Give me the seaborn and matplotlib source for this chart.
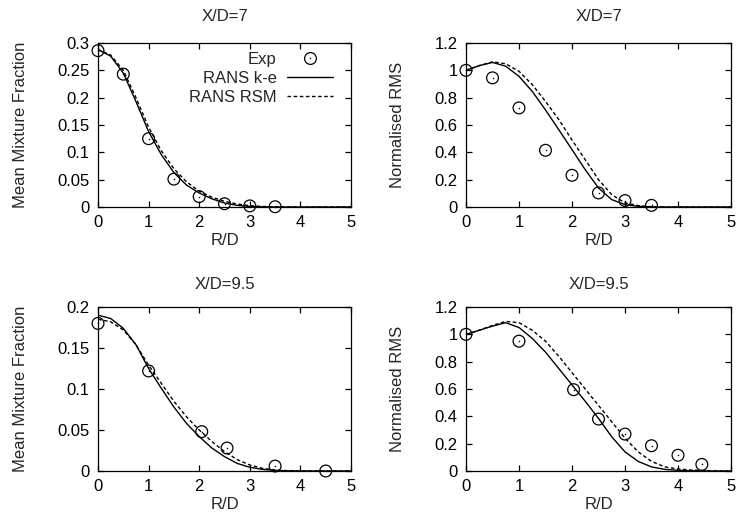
import numpy as np
import matplotlib
matplotlib.use("Agg")
import matplotlib.pyplot as plt
import seaborn as sns
from matplotlib.ticker import FuncFormatter, MultipleLocator
from matplotlib.lines import Line2D
from matplotlib.legend_handler import HandlerTuple

# ---------------- data ----------------
r_line = [0, 0.25, 0.5, 0.75, 1, 1.25, 1.5, 1.75, 2, 2.25, 2.5, 2.75, 3,
          3.25, 3.5, 3.75, 4, 4.25, 4.5, 4.75, 5]

# X/D = 7, mean mixture fraction
exp7_mean_r = [0, 0.5, 1, 1.5, 2, 2.5, 3, 3.5]
exp7_mean = [0.286, 0.243, 0.125, 0.051, 0.019, 0.006, 0.002, 0.0005]
ke7_mean = [0.288, 0.276, 0.245, 0.193, 0.138, 0.096, 0.063, 0.040, 0.0256, 0.015,
            0.0073, 0.003, 0.001, 0.0003, 0, 0, 0, 0, 0, 0, 0]
rsm7_mean = [0.288, 0.278, 0.250, 0.200, 0.146, 0.103, 0.070, 0.046, 0.029, 0.018,
             0.0104, 0.0055, 0.0024, 0.001, 0.0003, 0.0001, 0, 0, 0, 0, 0]

# X/D = 7, normalised RMS
exp7_rms_r = [0, 0.5, 1, 1.5, 2, 2.5, 3, 3.5]
exp7_rms = [1.0, 0.945, 0.725, 0.415, 0.232, 0.103, 0.047, 0.012]
ke7_rms = [1.0, 1.034, 1.058, 1.03, 0.956, 0.846, 0.71, 0.566, 0.42, 0.273,
           0.139, 0.054, 0.017, 0.005, 0.001, 0, 0, 0, 0, 0, 0]
rsm7_rms = [1.0, 1.035, 1.062, 1.048, 0.993, 0.895, 0.773, 0.64, 0.49, 0.346,
            0.20, 0.09, 0.03, 0.01, 0.002, 0, 0, 0, 0, 0, 0]

# X/D = 9.5, mean mixture fraction
exp95_mean_r = [0, 1, 2.05, 2.55, 3.5, 4.5]
exp95_mean = [0.180, 0.122, 0.048, 0.028, 0.006, 0.0]
ke95_mean = [0.190, 0.186, 0.174, 0.154, 0.125, 0.101, 0.078, 0.058, 0.042, 0.028,
             0.0175, 0.0093, 0.0045, 0.002, 0.0008, 0.0002, 0, 0, 0, 0, 0]
rsm95_mean = [0.185, 0.182, 0.172, 0.154, 0.129, 0.107, 0.085, 0.066, 0.050, 0.036,
              0.0236, 0.014, 0.0073, 0.0033, 0.0012, 0.0004, 0.0001, 0, 0, 0, 0]

# X/D = 9.5, normalised RMS
exp95_rms_r = [0, 1, 2.03, 2.5, 3, 3.5, 4, 4.45]
exp95_rms = [1.0, 0.95, 0.595, 0.38, 0.27, 0.185, 0.115, 0.048]
ke95_rms = [1.0, 1.03, 1.06, 1.085, 1.05, 0.97, 0.87, 0.75, 0.63, 0.51,
            0.385, 0.25, 0.14, 0.07, 0.03, 0.012, 0.005, 0.002, 0, 0, 0]
rsm95_rms = [1.0, 1.03, 1.065, 1.095, 1.085, 1.03, 0.95, 0.84, 0.72, 0.60,
             0.48, 0.36, 0.24, 0.14, 0.07, 0.03, 0.015, 0.007, 0.003, 0.001, 0.0]

titles = ["X/D=7", "X/D=7", "X/D=9.5", "X/D=9.5"]
ylabels = ["Mean Mixture Fraction", "Normalised RMS", "Mean Mixture Fraction", "Normalised RMS"]
xlabel = "R/D"
legend_labels = ["Exp", "RANS k-e", "RANS RSM"]

# ---------------- style ----------------
sns.set_theme(style="ticks")
plt.rcParams["font.family"] = ["Liberation Sans", "DejaVu Sans"]
FS = 12
plt.rcParams["font.size"] = FS
plt.rcParams["axes.linewidth"] = 0.9

fig = plt.figure(figsize=(7.38, 5.27), dpi=100)
W, H = 738.0, 527.0
boxes = [(98, 43, 351, 207), (466, 43, 731, 207),
         (98, 307, 351, 471), (466, 307, 731, 471)]
axes = []
for (l, t, r, b) in boxes:
    axes.append(fig.add_axes([l / W, 1 - b / H, (r - l) / W, (b - t) / H]))

panels = [
    (exp7_mean_r, exp7_mean, ke7_mean, rsm7_mean, 0.3, 0.05),
    (exp7_rms_r, exp7_rms, ke7_rms, rsm7_rms, 1.2, 0.2),
    (exp95_mean_r, exp95_mean, ke95_mean, rsm95_mean, 0.2, 0.05),
    (exp95_rms_r, exp95_rms, ke95_rms, rsm95_rms, 1.2, 0.2),
]
title_pads = [15.5, 15.5, 13, 13]

fmt = FuncFormatter(lambda v, p: "%g" % round(v, 6))
DASH = (0, (2.6, 1.8))

for i, (ax, (er, ev, ke, rsm, ymax, ystep)) in enumerate(zip(axes, panels)):
    sns.lineplot(x=r_line, y=ke, ax=ax, color="black", lw=1.0)
    sns.lineplot(x=r_line, y=rsm, ax=ax, color="black", lw=1.0, linestyle=DASH)
    sns.scatterplot(x=er, y=ev, ax=ax, marker="o", s=72, color="black",
                    facecolors="none", edgecolor="black", linewidth=0.9,
                    clip_on=False, zorder=5)
    sns.scatterplot(x=er, y=ev, ax=ax, marker="o", s=1.2, color="black",
                    edgecolor="black", linewidth=0, clip_on=False, zorder=6)
    ax.set_xlim(0, 5)
    ax.set_ylim(0, ymax)
    ax.xaxis.set_major_locator(MultipleLocator(1))
    ax.yaxis.set_major_locator(MultipleLocator(ystep))
    ax.yaxis.set_major_formatter(fmt)
    ax.xaxis.set_major_formatter(fmt)
    ax.tick_params(direction="in", length=4.5, width=0.9, top=True, right=True,
                   labelsize=FS, pad=6, colors="black")
    for s in ax.spines.values():
        s.set_visible(True)
        s.set_color("black")
    ax.set_title(titles[i], fontsize=FS, pad=title_pads[i])
    ax.set_xlabel(xlabel, fontsize=FS, labelpad=2)
    ax.set_ylabel(ylabels[i], fontsize=FS, labelpad=21)
    if ax.get_legend() is not None:
        ax.get_legend().remove()

# legend in the first panel (gnuplot style)
circ = Line2D([], [], marker="o", markersize=8.5, markerfacecolor="none",
              markeredgecolor="black", markeredgewidth=0.9, linestyle="none")
dot = Line2D([], [], marker="o", markersize=1.1, markerfacecolor="black",
             markeredgewidth=0, linestyle="none")
solid = Line2D([], [], color="black", lw=1.0)
dashed = Line2D([], [], color="black", lw=1.0, linestyle=DASH)
axes[0].legend([(circ, dot), solid, dashed], legend_labels,
               handler_map={tuple: HandlerTuple(ndivide=1)},
               loc="upper right", bbox_to_anchor=(0.93, 0.945),
               frameon=False, markerfirst=False, fontsize=FS,
               handlelength=2.8, handletextpad=0.6, labelspacing=0.23,
               borderaxespad=0, borderpad=0, numpoints=1)

fig.savefig("out.png", dpi=100)
